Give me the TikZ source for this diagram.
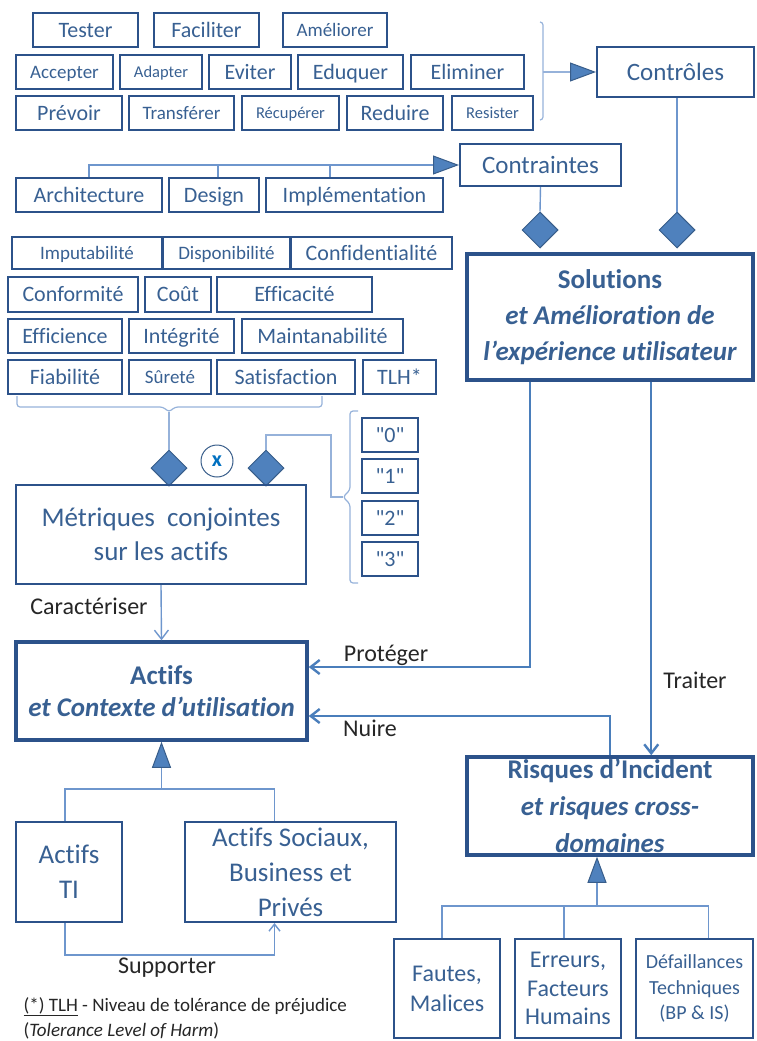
\documentclass[tikz,border=0pt]{standalone}
\usepackage{fontspec}
\setmainfont{Carlito}[Ligatures={TeX,NoCommon}]
\newfontfamily\qfont{Carlito}
\usetikzlibrary{shapes.geometric,arrows.meta,calc}

\definecolor{boxblue}{RGB}{44,82,138}
\definecolor{txtblue}{RGB}{56,96,146}
\definecolor{lnblue}{RGB}{74,126,187}
\definecolor{trblue}{RGB}{110,150,205}
\definecolor{brblue}{RGB}{150,178,218}
\definecolor{diafill}{RGB}{79,129,189}
\definecolor{diadraw}{RGB}{56,93,138}
\definecolor{xblue}{RGB}{0,112,192}

\newcommand{\fs}[2]{\fontsize{#1}{#2}\selectfont}

\tikzset{
  mbox/.style   = {draw=boxblue, line width=2pt, text=txtblue, inner sep=0pt,
                   align=center, font=\fs{22}{26}},
  box/.style    = {mbox, text height=14.2pt, text depth=0pt},
  bigbox/.style = {mbox, line width=3.5pt},
  wh/.style 2 args = {minimum width=#1pt, minimum height=#2pt},
  sB/.style     = {font=\fs{19}{23}, text height=12.2pt},
  sC/.style     = {font=\fs{16.5}{20}, text height=10.6pt},
  sL/.style     = {font=\fs{25}{30}, text height=16.1pt},
  link/.style   = {draw=lnblue, line width=2.4pt},
  tree/.style   = {draw=trblue, line width=1.4pt},
  brace/.style  = {draw=brblue, line width=1.2pt, rounded corners=3pt},
  diam/.style   = {diamond, fill=diafill, draw=diadraw, line width=1pt,
                   minimum width=36pt, minimum height=36pt, inner sep=0pt},
  lbl/.style    = {text=black!85, font=\fs{24}{28}},
  barb/.style   = {-{Straight Barb[length=9pt,width=14pt]}},
  inh/.style    = {-{Triangle[length=26pt,width=19pt,color=diadraw,fill=diafill,line width=1pt]}}
}

\begin{document}
\begin{tikzpicture}[x=1pt, y=-1pt]
  \useasboundingbox (0,0) rectangle (756,1041);

  \node [box,     wh={105}{34}] (tester)     at ( 85.5, 30) {Tester};
  \node [box,     wh={105}{34}] (faciliter)  at (206.5, 30) {Faciliter};
  \node [box, sB, wh={104}{34}] (ameliorer)  at (335  , 30) {Améliorer};
  \node [box, sB, wh={ 97}{34}] (accepter)   at ( 64.5, 72) {Accepter};
  \node [box, sC, wh={ 82}{34}] (adapter)    at (161  , 72) {Adapter};
  \node [box,     wh={ 82}{34}] (eviter)     at (250  , 72) {Eviter};
  \node [box,     wh={105}{34}] (eduquer)    at (350.5, 72) {Eduquer};
  \node [box,     wh={113}{34}] (eliminer)   at (467.5, 72) {Eliminer};
  \node [box,     wh={106}{34}] (prevoir)    at ( 69  ,113) {Prévoir};
  \node [box, sB, wh={105}{34}] (transferer) at (181.5,113) {Transférer};
  \node [box, sC, wh={ 97}{34}] (recuperer)  at (290.5,113) {Récupérer};
  \node [box,     wh={ 96}{34}] (reduire)    at (395  ,113) {Reduire};
  \node [box, sC, wh={ 81}{34}] (resister)   at (492.5,113) {Resister};

  \node [box, sL, wh={157}{50}] (controles)   at (675.5, 72) {Contrôles};
  \node [box, sL, wh={161}{42}] (contraintes) at (540.5,165) {Contraintes};

  \node [box,     wh={146}{34}] (arch)       at ( 89  ,195) {Architecture};
  \node [box,     wh={ 90}{34}] (design)     at (214  ,195) {Design};
  \node [box,     wh={177}{34}] (impl)       at (354.5,195) {Implémentation};

  \node [box, sB, wh={150}{32}] (imput)      at ( 87  ,253) {Imputabilité};
  \node [box, sB, wh={127}{32}] (dispo)      at (226.5,253) {Disponibilité};
  \node [box,     wh={161}{32}] (confid)     at (371.5,253) {Confidentialité};
  \node [box,     wh={130}{35}] (conform)    at ( 73  ,294.5) {Conformité};
  \node [box,     wh={ 66}{35}] (cout)       at (178  ,294.5) {Coût};
  \node [box,     wh={155}{35}] (effica)     at (294.5,294.5) {Efficacité};
  \node [box,     wh={114}{34}] (efficience) at ( 65  ,336) {Efficience};
  \node [box,     wh={105}{34}] (integ)      at (181.5,336) {Intégrité};
  \node [box,     wh={161}{34}] (maint)      at (322.5,336) {Maintanabilité};
  \node [box,     wh={114}{34}] (fiab)       at ( 65  ,377) {Fiabilité};
  \node [box, sB, wh={ 82}{34}] (surete)     at (170  ,377) {Sûreté};
  \node [box,     wh={138}{34}] (satisf)     at (286  ,377) {Satisfaction};
  \node [box,     wh={ 73}{34}] (tlh)        at (399.5,377) {TLH*};

  \node [diam] (dm1) at (169,468) {};
  \node [diam] (dm2) at (266,468) {};
  \node [circle, draw=diadraw, line width=1pt, minimum size=32pt, inner sep=0pt,
         text=xblue, font=\bfseries\fs{22}{22}] (cross) at (217,461) {x};

  \node [mbox, font=\fs{27}{34}, wh={290}{99}] (metriques) at (161,534.5)
        {Métriques~ conjointes\\sur les actifs};

  \node [box, wh={56}{34}] (v0) at (390,435) {\qfont "0"};
  \node [box, wh={56}{34}] (v1) at (390,476) {\qfont "1"};
  \node [box, wh={56}{34}] (v2) at (390,518) {\qfont "2"};
  \node [box, wh={56}{34}] (v3) at (390,559) {\qfont "3"};

  \node [diam] (dm3) at (540,230) {};
  \node [diam] (dm4) at (677,230) {};

  \node [bigbox, font=\bfseries\fs{27}{36}, wh={286}{126}] (solutions) at (610,317)
        {Solutions\\\itshape et Amélioration de\\\itshape l’expérience utilisateur};

  \node [bigbox, font=\bfseries\fs{27}{32}, wh={291}{98}] (actifs) at (161.5,691)
        {Actifs\\\itshape et Contexte d’utilisation};

  \node [bigbox, font=\bfseries\fs{27}{37}, wh={286}{98}] (risques) at (610,806)
        {Risques d’Incident\\\itshape et risques cross-\\\itshape domaines};

  \node [mbox, font=\fs{27}{35}, wh={106}{100}] (ti)      at ( 69  ,872) {Actifs\\TI};
  \node [mbox, font=\fs{27}{35}, wh={211}{100}] (sociaux) at (290.5,872) {Actifs Sociaux,\\Business et\\Privés};

  \node [mbox, font=\fs{24}{30},   wh={106}{99}] (fautes)  at (447  ,988.5) {Fautes,\\Malices};
  \node [mbox, font=\fs{24}{28.5}, wh={106}{99}] (erreurs) at (568  ,988.5) {Erreurs,\\Facteurs\\Humains};
  \node [mbox, font=\fs{20}{25.5}, wh={117}{99}] (defail)  at (694.5,988.5) {Défaillances\\Techniques\\(BP \& IS)};

  \node [lbl] (carac)   at ( 89,606) {Caractériser};
  \node [lbl] (proteg)  at (386,655) {Protéger};
  \node [lbl] (nuire)   at (370,728) {Nuire};
  \node [lbl] (traiter) at (695,680) {Traiter};
  \node [lbl] (support) at (167,968) {Supporter};

  \node [anchor=west, text=black!85, font=\fs{19}{24}] (note1) at (20,1007)
        {\underline{(*) TLH} - Niveau de tolérance de préjudice};
  \node [anchor=west, text=black!85, font=\fs{19}{24}] (note2) at (20,1031)
        {(\textit{Tolerance Level of Harm})};

  \draw [brace] (540,22) -- (543,22) -- (543,120) -- (540,120);
  \coordinate (brc) at (543,72);
  \draw [tree, draw=brblue, inh] (brc) -- (controles.west);

  \draw [tree, inh] (arch.north) |- (contraintes.west);
  \draw [tree] (design.north) ++(4,0) -- ++(0,-13);
  \draw [tree] (impl.north) ++(-24.5,0) -- ++(0,-13);

  \draw [tree] (contraintes.south) -- (dm3.north);
  \draw [tree] (dm4.north |- controles.south) -- (dm4.north);

  \draw [brace] (17,396) -- (17,407) -- (163,407) -- (169,412) -- (175,407) -- (322,407) -- (322,396);
  \coordinate (brm) at (169,412);
  \draw [brace] (brm) -- (dm1.north);

  \draw [brace] (358,411) -- (350,411) -- (350,490) -- (343,497) -- (350,504) -- (350,583) -- (358,583);
  \coordinate (brv) at (343,497);
  \draw [brace, rounded corners=0pt] (dm2.north) |- (331,435) |- (brv);

  \draw [tree, barb] (metriques.south) -- (actifs.north);

  \draw [link, barb] ($(solutions.south west)+(65,0)$)  |- ($(actifs.east)+(0,-24)$);
  \draw [link, barb] ($(solutions.south west)+(186,0)$) -- ($(risques.north west)+(186,0)$);
  \draw [link, barb] ($(risques.north west)+(145,0)$)   |- ($(actifs.east)+(0,25)$);

  \coordinate (ljoin) at (161.5,789);
  \draw [tree, inh] (ljoin) -- (actifs.south);
  \draw [tree] ($(ti.north)+(-4,0)$) |- (ljoin) -| ($(sociaux.north)+(-16,0)$);
  \draw [tree, -{Straight Barb[length=7pt,width=11pt]}] ($(ti.south)+(-4,0)$) -- ++(0,32) -| ($(sociaux.south)+(-16,0)$);

  \coordinate (rjoin) at (597,906);
  \draw [tree, inh] (rjoin) -- (rjoin |- risques.south);
  \draw [tree] ($(fautes.north)+(-5,0)$) |- (rjoin) -| ($(defail.north)+(14,0)$);
  \draw [tree] ($(erreurs.north)+(-4,0)$) -- ++(0,-33);
\end{tikzpicture}
\end{document}
